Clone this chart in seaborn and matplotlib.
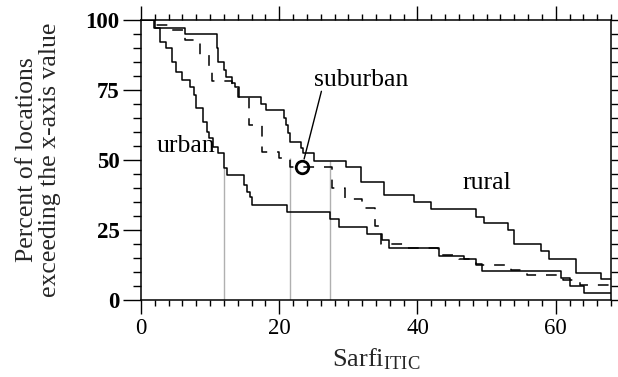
import matplotlib
matplotlib.use("Agg")
import matplotlib.pyplot as plt
import seaborn as sns
import pandas as pd
from matplotlib.ticker import MultipleLocator

# ---- data ----
urban_x = [0, 1.9, 2.8, 3.6, 4.45, 5.0, 5.9, 7.1, 7.6, 8.0, 9.0, 9.5, 9.9, 10.4, 11.1,
           11.95, 12.5, 14.85, 15.3, 15.8, 16.1, 21.1, 27.3, 28.6, 32.75, 34.9, 35.9,
           43.1, 46.8, 48.5, 49.4, 60.7, 62.0, 64.1, 68]
urban_y = [100, 97, 92.3, 89.9, 85.1, 81.5, 78.6, 76.2, 73.2, 68.5, 63.7, 60.1, 57.7, 54.8, 52.4,
           47.0, 44.6, 41.0, 38.7, 36.9, 33.9, 31.5, 28.8, 26.2, 23.5, 21.4, 18.4,
           15.6, 14.5, 12.9, 10.5, 7.7, 5.0, 2.4, 2.4]

suburban_x = [0, 2.0, 4.5, 6.3, 8.6, 9.8, 10.3, 13.2, 14.0, 15.6, 17.5, 20.0, 21.6, 27.7, 29.5,
              32.0, 33.8, 34.7, 38.0, 43.0, 46.0, 48.5, 53.5, 55.8, 61.0, 63.5, 68]
suburban_y = [100, 98.2, 96.4, 92.9, 87.5, 81.5, 78.2, 76.2, 72.6, 62.5, 53.0, 50.6, 47.4, 40.0, 36.0,
              33.0, 26.5, 20.0, 18.5, 16.0, 14.6, 12.5, 10.6, 8.9, 7.1, 5.3, 5.3]

rural_x = [0, 2.0, 6.4, 11.0, 11.2, 11.95, 12.3, 13.2, 13.6, 14.2, 17.3, 18.1, 20.7, 21.0, 21.3,
           21.6, 23.1, 23.5, 25.0, 29.6, 31.8, 35.2, 39.5, 41.9, 48.5, 49.6, 53.1, 53.9, 57.8,
           59.0, 63.0, 66.5, 68]
rural_y = [100, 97, 94.9, 89.9, 85.1, 82.1, 79.8, 77.4, 76.2, 72.6, 70.0, 67.9, 64.9, 62.5, 59.5,
           56.5, 54.2, 52.4, 49.8, 47.6, 42.3, 37.4, 35.0, 32.4, 29.8, 27.4, 25.0, 19.9, 17.5,
           14.8, 9.8, 7.4, 7.4]

median_x = [11.95, 21.6, 27.3]
median_top = [47.0, 50.6, 49.8]

circle_x = [23.3]
circle_y = [47.6]

labels = ["urban", "suburban", "rural"]
label_x = [6.5, 31.8, 50.0]
label_y = [55.0, 78.6, 41.8]

x_ticks = [0, 20, 40, 60]
y_ticks = [0, 25, 50, 75, 100]

# ---- style ----
sns.set_style("ticks")
plt.rcParams["font.family"] = ["Liberation Serif", "DejaVu Serif"]
plt.rcParams["mathtext.fontset"] = "custom"
plt.rcParams["mathtext.rm"] = "Liberation Serif"
plt.rcParams["mathtext.it"] = "Liberation Serif:italic"
plt.rcParams["xtick.direction"] = "out"
plt.rcParams["ytick.direction"] = "out"

fig = plt.figure(figsize=(6.18, 3.77), dpi=100)
ax = fig.add_axes([141 / 618, 1 - 300 / 377, 470 / 618, 280 / 377])

df_u = pd.DataFrame({"x": urban_x, "y": urban_y})
df_s = pd.DataFrame({"x": suburban_x, "y": suburban_y})
df_r = pd.DataFrame({"x": rural_x, "y": rural_y})

ax.vlines(median_x, 0, median_top, colors="#b0b0b0", linewidth=1.0, zorder=1)

sns.lineplot(data=df_u, x="x", y="y", ax=ax, drawstyle="steps-post", color="black",
             linewidth=1.1, estimator=None, sort=False, zorder=3)
sns.lineplot(data=df_s, x="x", y="y", ax=ax, drawstyle="steps-post", color="black",
             linewidth=1.1, estimator=None, sort=False, zorder=3)
ax.lines[-1].set_linestyle((0, (7, 6.5)))
sns.lineplot(data=df_r, x="x", y="y", ax=ax, drawstyle="steps-post", color="black",
             linewidth=1.1, estimator=None, sort=False, zorder=3)

ax.plot(circle_x, circle_y, "o", markersize=9, markerfacecolor="none",
        markeredgecolor="black", markeredgewidth=2.0, zorder=5)
ax.annotate("", xy=(circle_x[0] + 0.2, circle_y[0] + 1.8), xytext=(26.2, 75.5),
            arrowprops=dict(arrowstyle="-", color="black", linewidth=1.0))

for t, xx, yy in zip(labels, label_x, label_y):
    ax.text(xx, yy, t, ha="center", va="center", fontsize=18.5, color="black")

ax.set_xlim(0, 68)
ax.set_ylim(0, 100)
ax.set_xticks(x_ticks)
ax.set_yticks(y_ticks)
ax.xaxis.set_minor_locator(MultipleLocator(2))
ax.yaxis.set_minor_locator(MultipleLocator(5))

for s in ax.spines.values():
    s.set_visible(True)
    s.set_linewidth(1.1)
    s.set_color("black")

ax.tick_params(axis="x", which="major", direction="out", length=10, width=1.0,
               top=True, bottom=True, labelsize=16.5, pad=3, colors="black")
ax.tick_params(axis="x", which="minor", direction="out", length=4, width=1.0,
               top=True, bottom=True, colors="black")
ax.tick_params(axis="y", which="major", direction="out", length=13, width=1.0,
               left=True, right=True, labelsize=16.5, pad=2.5, colors="black")
ax.tick_params(axis="y", which="minor", direction="out", length=5.5, width=1.0,
               left=True, right=True, colors="black")
for lab in ax.get_yticklabels():
    lab.set_fontweight("bold")

ax.set_xlabel(r"Sarfi$_{\mathrm{ITIC}}$", fontsize=19)
ax.xaxis.set_label_coords(0.5, -0.213)
ax.xaxis.label.set_va("center")
ax.set_ylabel("Percent of locations\nexceeding the x-axis value", fontsize=18.5,
              linespacing=1.08)
ax.yaxis.set_label_coords(-0.218, 0.5)
ax.yaxis.label.set_va("center")

fig.savefig("out.png", dpi=100)
